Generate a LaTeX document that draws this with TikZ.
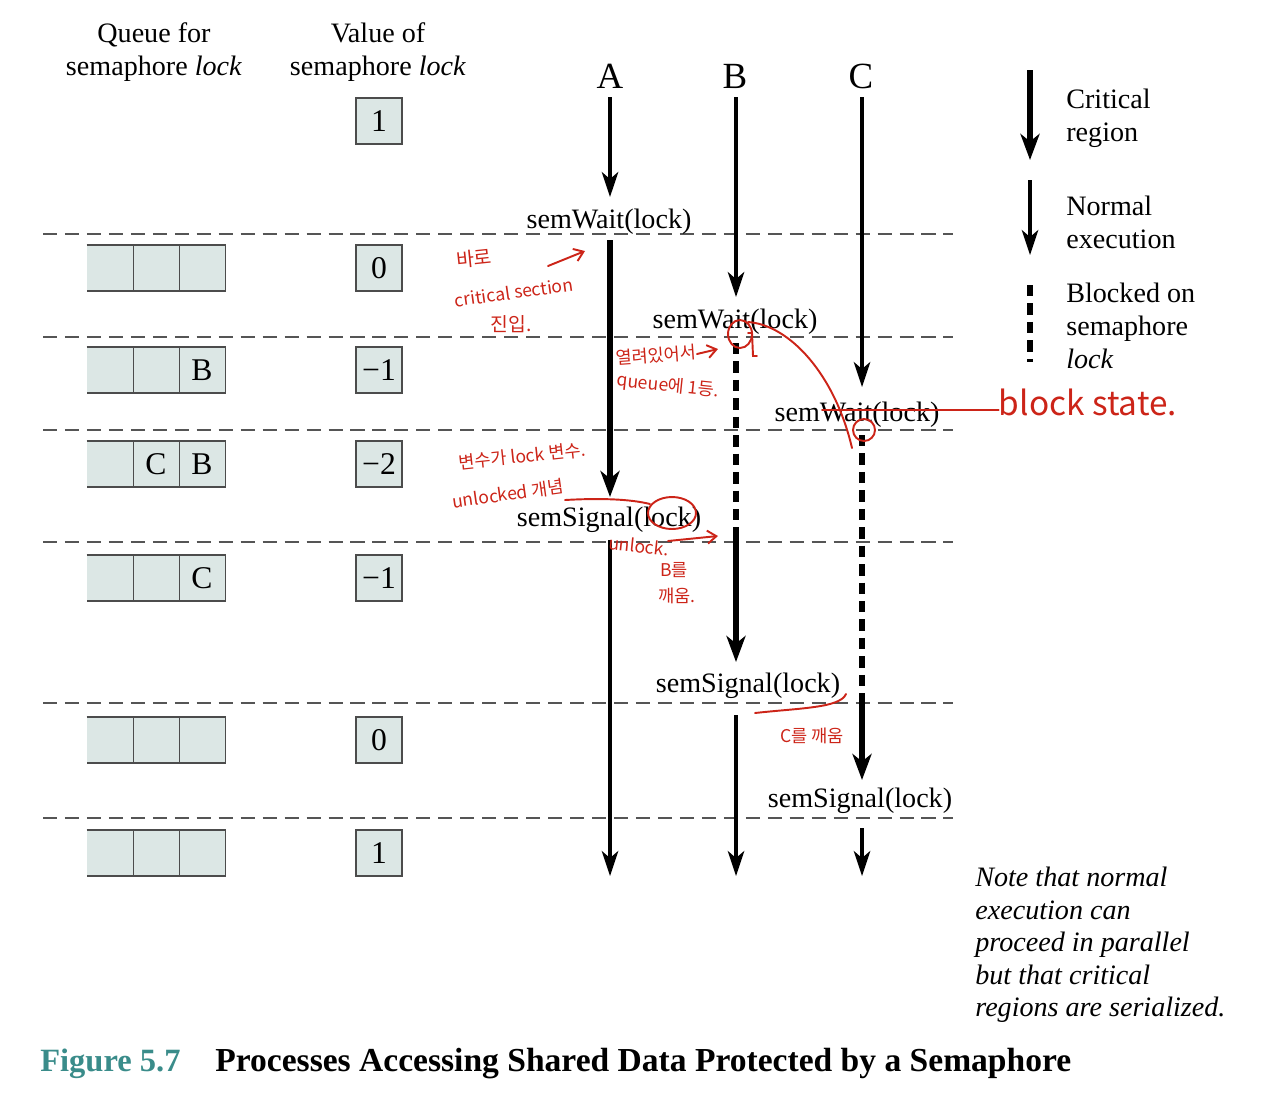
\documentclass[tikz,border=0pt]{standalone}
\usepackage{fontspec}
\setmainfont{Liberation Serif}
\newfontfamily\korfont{Noto Sans CJK KR}
\usetikzlibrary{arrows.meta}
\definecolor{cellfill}{HTML}{DCE7E5}
\definecolor{figteal}{HTML}{3A8C8A}
\definecolor{inkred}{HTML}{CC2418}
\definecolor{rulegray}{HTML}{555555}
\tikzset{
    label text/.style={
        font=\fontsize{16}{18.7}\selectfont,
        align=center,
        inner sep=0pt
    },
    proc name/.style={
        font=\fontsize{21}{24}\selectfont,
        inner sep=0pt
    },
    value box/.style={
        draw=black!70,
        fill=cellfill,
        line width=0.9pt,
        minimum width=0.92cm,
        minimum height=0.92cm,
        inner sep=0pt,
        font=\fontsize{18}{20}\selectfont
    },
    queue cell/.style={
        fill=cellfill,
        minimum width=0.92cm,
        minimum height=0.9cm,
        inner sep=0pt,
        font=\fontsize{18}{20}\selectfont
    },
    queue edge/.style={
        draw=black!70,
        line width=0.9pt
    },
    time rule/.style={
        draw=rulegray,
        line width=0.8pt,
        dash pattern=on 8pt off 4.5pt
    },
    normal run/.style={
        line width=1.8pt,
        -{Stealth[length=5mm, width=3.3mm, inset=1.4mm]}
    },
    critical run/.style={
        line width=3.4pt,
        -{Stealth[length=5.2mm, width=3.8mm, inset=1.5mm]}
    },
    blocked run/.style={
        line width=3.4pt,
        dash pattern=on 6.5pt off 4pt
    },
    ink/.style={
        draw=inkred,
        line width=1.1pt,
        line cap=round
    },
    ink arrow/.style={
        ink,
        -{Straight Barb[length=1.8mm, width=2.6mm]}
    },
    ink note/.style={
        text=inkred,
        inner sep=0pt,
        font=\korfont\fontsize{10}{12}\selectfont
    }
}
\newcommand{\queuerow}[5]{%
    \node[queue cell] (#1a) at (110,#2) {#3};
    \node[queue cell] (#1b) at (156,#2) {#4};
    \node[queue cell] (#1c) at (202,#2) {#5};
    \draw[queue edge] (#1a.north west) -- (#1c.north east)
        -- (#1c.south east) -- (#1a.south west);
    \draw[queue edge] (#1a.north east) -- (#1a.south east);
    \draw[queue edge] (#1b.north east) -- (#1b.south east);
}
\begin{document}
\begin{tikzpicture}[x=0.02cm, y=-0.02cm]
    \useasboundingbox (0,0) rectangle (1280,1100);

    % -------------------------------------------------------------------------
    % Headings and process names.
    % -------------------------------------------------------------------------
    \node[label text] (queuehead) at (154,52) {Queue for\\semaphore \textit{lock}};
    \node[label text] (valuehead) at (378,52) {Value of\\semaphore \textit{lock}};

    \node[proc name] (procA) at (610,76) {A};
    \node[proc name] (procB) at (735,76) {B};
    \node[proc name] (procC) at (861,76) {C};

    % Time rules.
    \foreach \y in {234,337,430,542,703,818} {
        \draw[time rule] (43,\y) -- (953,\y);
    }

    % -------------------------------------------------------------------------
    % Semaphore value and queue, row by row.
    % -------------------------------------------------------------------------
    \node[value box] (val0) at (379,121) {1};
    \node[value box] (val1) at (379,268) {0};
    \node[value box] (val2) at (379,370) {−1};
    \node[value box] (val3) at (379,464) {−2};
    \node[value box] (val4) at (379,578) {−1};
    \node[value box] (val5) at (379,740) {0};
    \node[value box] (val6) at (379,853) {1};

    \queuerow{qa}{268}{}{}{}
    \queuerow{qb}{370}{}{}{B}
    \queuerow{qc}{464}{}{C}{B}
    \queuerow{qd}{578}{}{}{C}
    \queuerow{qe}{740}{}{}{}
    \queuerow{qf}{853}{}{}{}

    % -------------------------------------------------------------------------
    % Semaphore calls.
    % -------------------------------------------------------------------------
    \node[label text] (waitA) at (609,222) {semWait(lock)};
    \node[label text] (sigA) at (609,520) {semSignal(lock)};
    \node[label text] (waitB) at (735,322) {semWait(lock)};
    \node[label text] (sigB) at (748,686) {semSignal(lock)};
    \node[label text] (waitC) at (857,415) {semWait(lock)};
    \node[label text] (sigC) at (860,801) {semSignal(lock)};

    % Process A.
    \coordinate (a0) at (610,97);
    \coordinate (a1) at (610,197);
    \coordinate (a2) at (610,240);
    \coordinate (a3) at (610,497);
    \coordinate (a4) at (610,540);
    \coordinate (a5) at (610,876);
    \draw[normal run] (a0) -- (a1);
    \draw[critical run] (a2) -- (a3);
    \draw[normal run] (a4) -- (a5);

    % Process B.
    \coordinate (b0) at (736,97);
    \coordinate (b1) at (736,297);
    \coordinate (b2) at (736,343);
    \coordinate (b3) at (736,530);
    \coordinate (b4) at (736,662);
    \coordinate (b5) at (736,715);
    \coordinate (b6) at (736,876);
    \draw[normal run] (b0) -- (b1);
    \draw[blocked run] (b2) -- (b3);
    \draw[critical run] (b3) -- (b4);
    \draw[normal run] (b5) -- (b6);

    % Process C.
    \coordinate (c0) at (862,97);
    \coordinate (c1) at (862,387);
    \coordinate (c2) at (862,435);
    \coordinate (c3) at (862,700);
    \coordinate (c4) at (862,780);
    \coordinate (c5) at (862,828);
    \coordinate (c6) at (862,876);
    \draw[normal run] (c0) -- (c1);
    \draw[blocked run] (c2) -- (c3);
    \draw[critical run] (c3) -- (c4);
    \draw[normal run] (c5) -- (c6);

    % -------------------------------------------------------------------------
    % Key and note.
    % -------------------------------------------------------------------------
    \coordinate (keycrit0) at (1030,70);
    \coordinate (keycrit1) at (1030,160);
    \coordinate (keynorm0) at (1030,180);
    \coordinate (keynorm1) at (1030,255);
    \coordinate (keyblock0) at (1030,285);
    \coordinate (keyblock1) at (1030,362);
    \draw[critical run] (keycrit0) -- (keycrit1);
    \draw[normal run] (keynorm0) -- (keynorm1);
    \draw[blocked run] (keyblock0) -- (keyblock1);

    \node[label text, anchor=west, align=left] (keycrit) at (1066,118)
        {Critical\\region};
    \node[label text, anchor=west, align=left] (keynorm) at (1066,222)
        {Normal\\execution};
    \node[label text, anchor=west, align=left] (keyblock) at (1066,326)
        {Blocked on\\semaphore\\\textit{lock}};

    \node[label text, anchor=west, align=left,
        font=\fontsize{16}{18.5}\selectfont\itshape] (note) at (975,945)
        {Note that normal\\execution can\\proceed in parallel\\but that critical\\regions are serialized.};

    % Caption.
    \node[anchor=west, inner sep=0pt, text=figteal,
        font=\fontsize{18.5}{20}\selectfont\bfseries] (figno) at (40,1064) {Figure 5.7};
    \node[anchor=west, inner sep=0pt,
        font=\fontsize{19.1}{21}\selectfont\bfseries] (figtitle) at (215,1064)
        {Processes Accessing Shared Data Protected by a Semaphore};

    % -------------------------------------------------------------------------
    % Hand-written remarks.
    % -------------------------------------------------------------------------
    \node[ink note, font=\korfont\fontsize{11}{12}\selectfont, rotate=6] (rem1) at (474,258) {바로};
    \node[ink note, rotate=8] (rem2) at (514,292) {critical section};
    \node[ink note, font=\korfont\fontsize{11}{12}\selectfont] (rem3) at (511,324) {진입.};
    \coordinate (rem1a) at (548,266);
    \coordinate (rem1b) at (585,251);
    \draw[ink arrow] (rem1a) -- (rem1b);

    \node[ink note, rotate=4] (rem4) at (656,355) {열려있어서};
    \node[ink note, rotate=-6] (rem5) at (668,386) {queue에 1등.};
    \coordinate (rem4a) at (697,354);
    \coordinate (rem4b) at (718,349);
    \draw[ink arrow] (rem4a) -- (rem4b);
    \draw[ink] (740,334) ellipse [x radius=12, y radius=14];
    \draw[ink] (748,333) -- (752,333) -- (753,356) -- (757,356);
    \coordinate (blkfrom) at (748,322);
    \coordinate (blkto) at (852,448);
    \draw[ink] (blkfrom) .. controls (790,325) and (835,375) .. (blkto);
    \draw[ink] (864,430) circle [radius=11];

    \node[ink note, font=\korfont\fontsize{19}{22}\selectfont] (rem6) at (1088,402) {block state.};
    \coordinate (rem6a) at (822,410);
    \draw[ink] (rem6a) -- (rem6a -| rem6.west);

    \node[ink note, rotate=6] (rem7) at (522,456) {변수가 lock 변수.};
    \node[ink note, rotate=8] (rem8) at (508,494) {unlocked 개념};
    \draw[ink] (672,513) ellipse [x radius=24, y radius=16];
    \coordinate (rem8a) at (565,500);
    \coordinate (rem8b) at (650,504);
    \draw[ink] (rem8a) .. controls (600,498) and (630,499) .. (rem8b);

    \node[ink note, rotate=-6] (rem9) at (639,546) {unlock.};
    \coordinate (rem9a) at (668,541);
    \coordinate (rem9b) at (718,536);
    \draw[ink arrow] (rem9a) -- (rem9b);
    \node[ink note] (rem10) at (674,570) {B를};
    \node[ink note] (rem11) at (677,596) {깨움.};

    \coordinate (rem12a) at (755,713);
    \coordinate (rem12b) at (846,694);
    \draw[ink] (rem12a) .. controls (800,708) and (840,708) .. (rem12b);
    \node[ink note] (rem12) at (812,736) {C를 깨움};

\end{tikzpicture}
\end{document}
